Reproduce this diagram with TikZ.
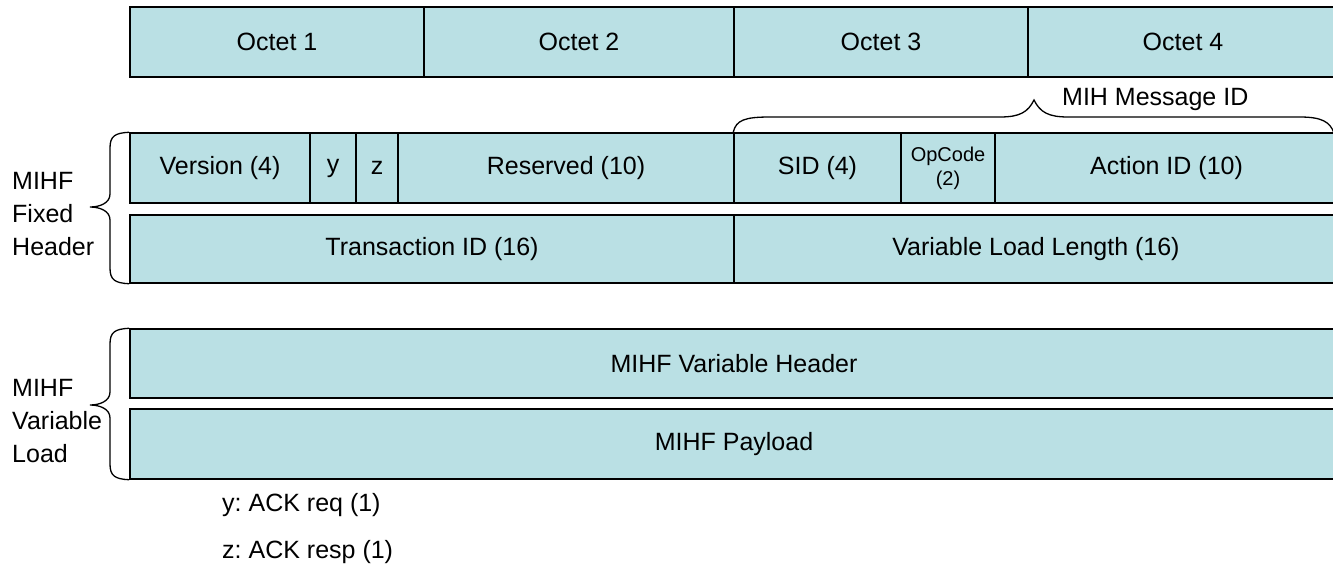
\documentclass[tikz,border=0pt]{standalone}
\usepackage{fontspec}
\setmainfont{Liberation Sans}
\frenchspacing
\definecolor{fieldfill}{RGB}{186,224,228}
\newcommand\fieldbox[7][]{%
  \node[field, minimum width={#4-#3}, minimum height={#6-#5}, #1] (#2) at ({(#3+#4)/2},{(#5+#6)/2}) {#7};}
\begin{document}
\begin{tikzpicture}[x=1pt, y=-1pt,
  field/.style={draw=black, line width=1.5pt, fill=fieldfill, inner sep=0pt,
    font=\fontsize{25}{30}\selectfont, align=center},
  small/.style={font=\fontsize{20}{24}\selectfont},
  lbl/.style={font=\fontsize{25}{33}\selectfont, align=left, inner sep=0pt},
  brace/.style={draw=black, line width=1.3pt}]
\useasboundingbox (0,0) rectangle (1333,579);
% row 1
\fieldbox{o1}{130}{424}{7}{77}{Octet 1}
\fieldbox{o2}{424}{734}{7}{77}{Octet 2}
\fieldbox{o3}{734}{1028}{7}{77}{Octet 3}
\fieldbox{o4}{1028}{1338}{7}{77}{Octet 4}
% row 2
\fieldbox{ver}{130}{310}{133}{203}{Version (4)}
\fieldbox{fy}{310}{356}{133}{203}{y}
\fieldbox{fz}{356}{398}{133}{203}{z}
\fieldbox{res}{398}{734}{133}{203}{Reserved (10)}
\fieldbox{sid}{734}{901}{133}{203}{SID (4)}
\fieldbox[small]{opc}{901}{995}{133}{203}{OpCode\\(2)}
\fieldbox{act}{995}{1338}{133}{203}{Action ID (10)}
% row 3
\fieldbox{tid}{130}{734}{215}{283}{Transaction ID (16)}
\fieldbox{vll}{734}{1338}{215}{283}{Variable Load Length (16)}
% rows 4,5
\fieldbox{vh}{130}{1338}{329}{398}{MIHF Variable Header}
\fieldbox{pl}{130}{1338}{409}{479}{MIHF Payload}
% top brace
\draw[brace] (sid.north west) .. controls (736,120) and (745,117) .. (770,117)
  -- (1000,117) .. controls (1020,117) and (1028,112) .. (1034,100)
  .. controls (1040,112) and (1048,117) .. (1068,117)
  -- (1300,117) .. controls (1322,117) and (1330,122) .. (1334,133);
\node[lbl, anchor=west] (mid) at (1062,99) {MIH Message ID};
% left brace 1
\draw[brace] (ver.north west) .. controls (115,133) and (110,136) .. (110,148)
  -- (110,194) .. controls (110,203) and (100,207) .. (90,207)
  .. controls (100,207) and (110,211) .. (110,220)
  -- (110,268) .. controls (110,280) and (115,283) .. (tid.south west);
\node[lbl, anchor=west] (fh) at (12,214) {MIHF\\Fixed\\Header};
% left brace 2
\draw[brace] (vh.north west) .. controls (115,329) and (110,332) .. (110,344)
  -- (110,392) .. controls (110,401) and (100,405) .. (90,405)
  .. controls (100,405) and (110,409) .. (110,418)
  -- (110,464) .. controls (110,476) and (115,479) .. (pl.south west);
\node[lbl, anchor=west] (vl) at (12,421) {MIHF\\Variable\\Load};
% legend
\node[lbl, anchor=west] (ly) at (222,505) {y: ACK req (1)};
\node[lbl, anchor=west] (lz) at (222,552) {z: ACK resp (1)};
\end{tikzpicture}
\end{document}
